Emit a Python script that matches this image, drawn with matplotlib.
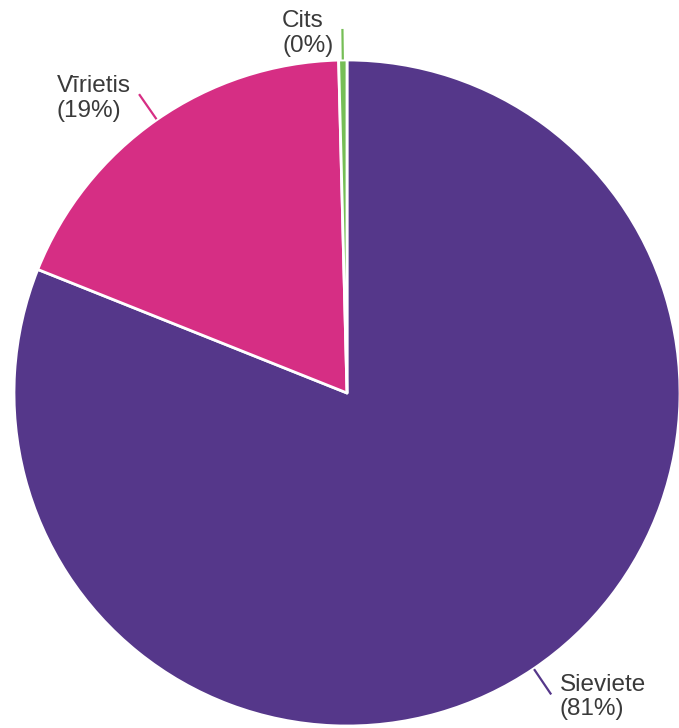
import numpy as np
import matplotlib
matplotlib.use("Agg")
import matplotlib.pyplot as plt

plt.rcParams['font.family'] = ['Liberation Sans', 'DejaVu Sans']

# atbilžu sadalījums pēc dzimuma
kategorijas = ['Sieviete', 'Vīrietis', 'Cits']
daļas = [81.05, 18.55, 0.4]
etiķetes = ['Sieviete\n(81%)', 'Vīrietis\n(19%)', 'Cits\n(0%)']
krāsas = ['#55378A', '#D62E84', '#76BE56']

fig = plt.figure(figsize=(6.79, 7.28), dpi=100)
W, H = 679, 728
cx, cy, r = 347, 393, 333
ax = fig.add_axes([(cx - r) / W, (H - cy - r) / H, 2 * r / W, 2 * r / H])

wedges, _ = ax.pie(daļas, colors=krāsas, startangle=90, counterclock=False,
                   wedgeprops=dict(edgecolor='white', linewidth=2, joinstyle='round'))
ax.set_xlim(-1, 1)
ax.set_ylim(-1, 1)
ax.set_aspect('equal')
ax.axis('off')

# līnijas un uzraksti pie katras daļas
for w, teksts, krāsa in zip(wedges, etiķetes, krāsas):
    leņķis = np.deg2rad((w.theta1 + w.theta2) / 2)
    dx, dy = np.cos(leņķis), np.sin(leņķis)
    ax.plot([dx * 1.005, dx * 1.09], [dy * 1.005, dy * 1.09], color=krāsa,
            lw=1.6, clip_on=False)
    puse = 'left' if dx > 0.05 else 'right'
    nobīde = 9 if puse == 'left' else -9
    ax.annotate(teksts, xy=(dx * 1.09, dy * 1.09), xytext=(nobīde * 0.72, -2.5),
                textcoords='offset points', ha=puse, va='center',
                multialignment='left', fontsize=17.5, color='#3a3a3a',
                linespacing=1.15, annotation_clip=False)

fig.savefig('out.png', dpi=100)
